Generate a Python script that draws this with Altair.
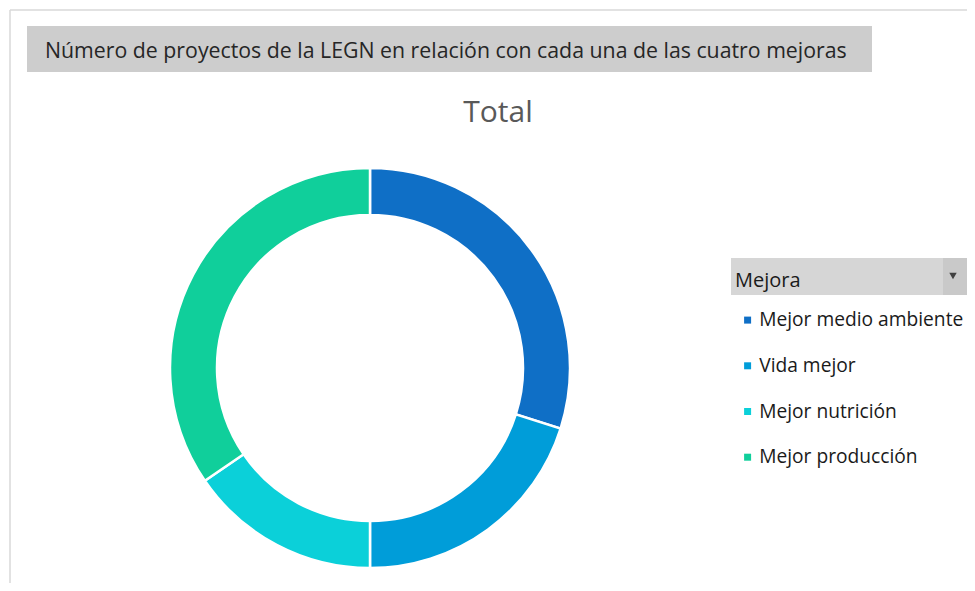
import altair as alt
import pandas as pd

categories = ["Mejor medio ambiente", "Vida mejor", "Mejor nutrición", "Mejor producción"]
values = [58, 39, 30, 67]
colors = ["#0F6FC6", "#009DD9", "#0BD0D9", "#10CF9B"]

title_text = "Número de proyectos de la LEGN en relación con cada una de las cuatro mejoras"
subtitle_text = "Total"
legend_title = "Mejora"

df = pd.DataFrame({"Mejora": categories, "Proyectos": values, "orden": list(range(len(categories)))})
one = pd.DataFrame({"k": [0]})

W, H = 959, 575

donut = alt.Chart(df).mark_arc(
    innerRadius=153, outerRadius=200, stroke="white", strokeWidth=2.5
).encode(
    theta=alt.Theta("Proyectos:Q", stack=True),
    order=alt.Order("orden:Q"),
    color=alt.Color(
        "Mejora:N",
        scale=alt.Scale(domain=categories, range=colors),
        sort=categories,
        legend=alt.Legend(
            title=None,
            orient="none",
            legendX=730,
            legendY=302.5,
            symbolType="square",
            symbolSize=49,
            symbolStrokeWidth=0,
            labelFont="Open Sans",
            labelFontSize=19.2,
            labelColor="#1a1a1a",
            labelOffset=2,
            labelLimit=400,
            rowPadding=25.7,
            padding=0,
        ),
    ),
    x=alt.value(362),
    y=alt.value(360),
)

frame_top = alt.Chart(one).mark_rule(color="#D9D9D9", strokeWidth=1.5).encode(
    x=alt.value(2), x2=alt.value(W), y=alt.value(2)
)
frame_left = alt.Chart(one).mark_rule(color="#D9D9D9", strokeWidth=1.5).encode(
    x=alt.value(2), y=alt.value(2), y2=alt.value(H)
)

banner = alt.Chart(one).mark_rect(color="#CDCDCD").encode(
    x=alt.value(19), x2=alt.value(864), y=alt.value(18), y2=alt.value(64)
)
banner_text = alt.Chart(one).mark_text(
    text=title_text, align="left", baseline="alphabetic",
    font="Open Sans", fontSize=21.3, color="#262626"
).encode(x=alt.value(37), y=alt.value(50))

total_text = alt.Chart(one).mark_text(
    text=subtitle_text, align="center", baseline="alphabetic",
    font="Open Sans", fontSize=30, color="#595959"
).encode(x=alt.value(490), y=alt.value(114))

hdr = alt.Chart(one).mark_rect(color="#D6D6D6").encode(
    x=alt.value(723), x2=alt.value(W), y=alt.value(250), y2=alt.value(287)
)
hdr_btn = alt.Chart(one).mark_rect(color="#C9C9C9").encode(
    x=alt.value(935), x2=alt.value(W), y=alt.value(250), y2=alt.value(287)
)
hdr_arrow = alt.Chart(one).mark_point(
    shape="triangle-down", filled=True, color="#404040", size=55, opacity=1
).encode(x=alt.value(945), y=alt.value(268))
hdr_text = alt.Chart(one).mark_text(
    text=legend_title, align="left", baseline="alphabetic",
    font="Open Sans", fontSize=20, color="#1a1a1a"
).encode(x=alt.value(727), y=alt.value(279))

chart = alt.layer(
    frame_top, frame_left, banner, banner_text, total_text,
    hdr, hdr_btn, hdr_arrow, hdr_text, donut
).properties(
    width=W, height=H, padding=0, autosize=alt.AutoSizeParams(type="none")
).configure_view(stroke=None)

chart.save("out.html", embed_options={"renderer": "svg", "actions": False})
